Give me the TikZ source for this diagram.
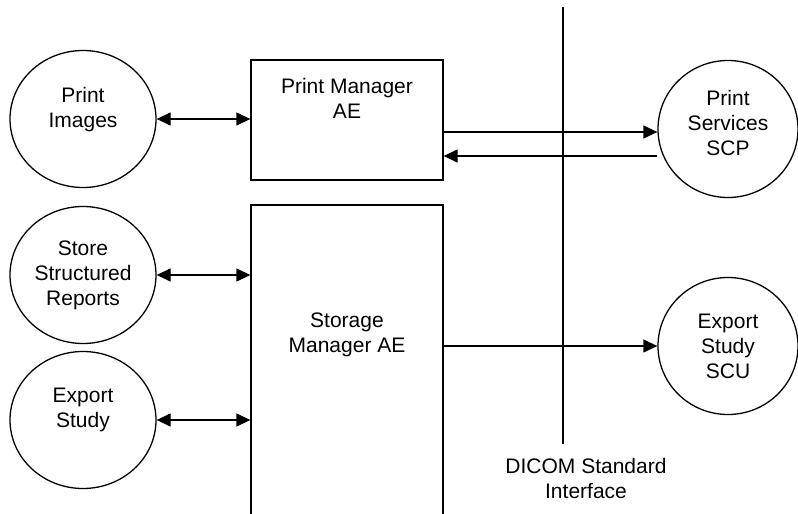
\documentclass[tikz,border=0pt]{standalone}
\usepackage{fontspec}
\setmainfont{Liberation Sans}
\usetikzlibrary{shapes.geometric, arrows.meta}
\newcommand{\diafont}{\fontsize{21}{25}\selectfont}
\tikzset{
  usecase/.style = {draw, ellipse, line width = 1.3pt, minimum width = 146pt,
    minimum height = 137pt, inner sep = 0, align = center, font = \diafont},
  aebox/.style = {draw, rectangle, line width = 1.3pt, inner sep = 0,
    minimum width = 192pt},
  link/.style = {line width = 1.3pt, -{Triangle[length = 14pt, width = 13pt]}},
  twolink/.style = {line width = 1.3pt,
    {Triangle[length = 14pt, width = 13pt]}-{Triangle[length = 14pt, width = 13pt]}}
}

\begin{document}
\begin{tikzpicture}[x = 1pt, y = -1pt]
  \useasboundingbox (0, 0) rectangle (798, 514);

  % local functions
  \node[usecase, text depth = 24pt] (pimg) at (83, 119) {Print\\Images};
  \node[usecase] (store) at (83, 275) {Store\\Structured\\Reports};
  \node[usecase, text depth = 24pt] (export) at (83, 420) {Export\\Study};

  % application entities
  \node[aebox, minimum height = 120pt,
    label = {[anchor = north, align = center, font = \diafont, yshift = -15pt]north:{Print Manager\\AE}}]
    (pm) at (347, 120) {};
  \node[aebox, minimum height = 355pt] (sm) at (347, 382.5) {};
  \node[font = \diafont, align = center] (smlabel) at (347, 335) {Storage\\Manager AE};

  % remote entities
  \node[usecase, minimum width = 140pt, text depth = 12pt] (scp) at (728, 129) {Print\\Services\\SCP};
  \node[usecase, minimum width = 140pt] (scu) at (728, 346) {Export\\Study\\SCU};

  % interface line
  \coordinate (ifctop) at (563, 7);
  \coordinate (ifcbot) at (563, 444);
  \draw[line width = 1.3pt] (ifctop) -- (ifcbot);
  \node[font = \diafont, align = center] (ifc) at (586, 478) {DICOM Standard\\Interface};

  \draw[twolink] (pimg) -- (pimg -| pm.west);
  \draw[twolink] (store) -- (store -| sm.west);
  \draw[twolink] (export) -- (export -| sm.west);

  \draw[link] ([yshift = -12pt]pm.east) -- ([yshift = -12pt]pm.east -| scp.west);
  \draw[link] ([yshift = -36pt]pm.east -| scp.west) -- ([yshift = -36pt]pm.east);
  \draw[link] (sm.east |- scu) -- (scu.west);
\end{tikzpicture}
\end{document}
